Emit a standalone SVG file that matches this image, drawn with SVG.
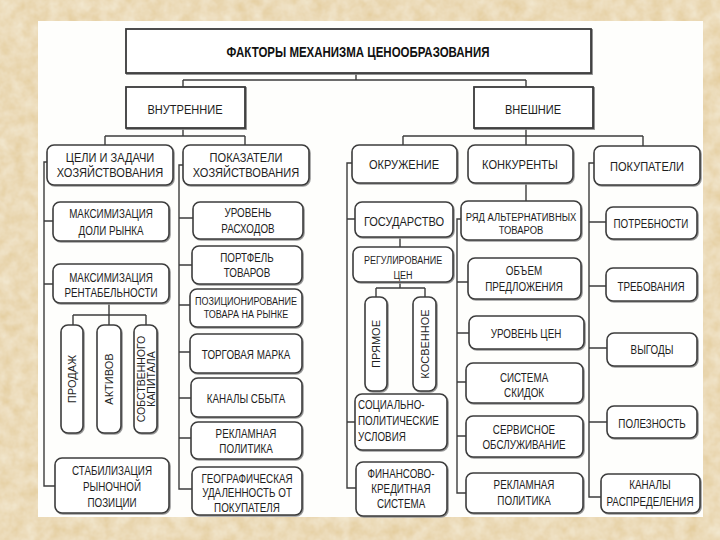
<svg xmlns="http://www.w3.org/2000/svg" width="720" height="540" viewBox="0 0 720 540">
<defs>
<filter id="paper" x="0" y="0" width="100%" height="100%">
<feTurbulence type="fractalNoise" baseFrequency="0.08" numOctaves="3" seed="4" result="n"/>
<feColorMatrix in="n" type="matrix" values="0 0 0 0 0.89  0 0 0 0 0.80  0 0 0 0 0.62  0 0 0 -1.2 1.1" result="c"/>
<feComposite in="c" in2="SourceGraphic" operator="over"/>
</filter>
<style>
.box{fill:#fff;stroke:#3c3c3c;stroke-width:1.6;filter:drop-shadow(1.2px 1.2px 0 #9a9a9a)}
.sq{fill:#fff;stroke:#3a3a3a;stroke-width:1.8;filter:drop-shadow(1.2px 1.5px 0 #8a8a8a)}
.ln{fill:none;stroke:#3c3c3c;stroke-width:1.4}
text{font-family:"Liberation Sans",Arial,sans-serif;fill:#1e1e1e;text-anchor:middle}
.n{transform-box:fill-box;transform-origin:center;transform:scale(0.82,1)}
.l{text-anchor:start;transform-origin:left center}
.t{font-size:14px;font-weight:bold;fill:#111}
.h{font-size:13.5px}
.m{font-size:13.5px}
.s{font-size:12px}
.xs{font-size:11px}
.a{font-size:11.5px}
.r{font-size:11px}
.r2{font-size:10.5px}
</style>
</defs>
<rect x="0" y="0" width="720" height="540" fill="#E4CD9E" filter="url(#paper)"/>
<rect x="38" y="21" width="665" height="496" fill="#FEFEFC"/>

<g id="connectors">
<path class="ln" d="M356,73V80M183,80H526M183,80V87M526,80V87"/>
<path class="ln" d="M183,128V136M105,136H245M105,136V145M245,136V145"/>
<path class="ln" d="M526,128V145M403,136H643M403,136V145M643,136V146"/>
<path class="ln" d="M47,162H44V486H55M44,221H53M44,284H53"/>
<path class="ln" d="M109,303V315M73,315H146M73,315V325M109,315V325M146,315V325"/>
<path class="ln" d="M183,165H179V489H192M179,218H193M179,265H192M179,305H190M179,352H190M179,398H191M179,438H191"/>
<path class="ln" d="M352,163H347V488H356M347,219H355M347,422H355"/>
<path class="ln" d="M400,237V247M400,282V288M376,288H425M376,288V297M425,288V297"/>
<path class="ln" d="M526,183V201M461,219H457V493H466M457,282H468M457,333H469M457,382H466M457,436H466"/>
<path class="ln" d="M594,163H589V497H601M589,222H606M589,286H606M589,348H607M589,422H607"/>
</g>

<g id="title"><rect class="sq" x="126" y="29" width="465" height="44"/><text class="t n" x="358" y="57">ФАКТОРЫ МЕХАНИЗМА ЦЕНООБРАЗОВАНИЯ</text></g>
<g id="internal"><rect class="sq" x="126" y="87" width="119" height="41"/><text class="h n" x="185" y="114">ВНУТРЕННИЕ</text></g>
<g id="external"><rect class="sq" x="474" y="87" width="119" height="41"/><text class="h n" x="533" y="114">ВНЕШНИЕ</text></g>

<g id="goals"><rect class="box" x="47" y="145" width="126" height="40" rx="7"/><text class="m n" x="110" y="162">ЦЕЛИ И ЗАДАЧИ</text><text class="m n" x="110" y="177">ХОЗЯЙСТВОВАНИЯ</text></g>
<g id="indicators"><rect class="box" x="183" y="145" width="126" height="40" rx="7"/><text class="m n" x="246" y="162">ПОКАЗАТЕЛИ</text><text class="m n" x="246" y="177">ХОЗЯЙСТВОВАНИЯ</text></g>
<g id="environment"><rect class="box" x="352" y="145" width="105" height="38" rx="7"/><text class="h n" x="404" y="169">ОКРУЖЕНИЕ</text></g>
<g id="competitors"><rect class="box" x="468" y="145" width="105" height="38" rx="7"/><text class="h n" x="520" y="169">КОНКУРЕНТЫ</text></g>
<g id="buyers"><rect class="box" x="594" y="146" width="106" height="39" rx="7"/><text class="h n" x="647" y="171">ПОКУПАТЕЛИ</text></g>

<g id="share"><rect class="box" x="53" y="202" width="116" height="39" rx="7"/><text class="s n" x="111" y="218">МАКСИМИЗАЦИЯ</text><text class="s n" x="111" y="235">ДОЛИ РЫНКА</text></g>
<g id="profit"><rect class="box" x="53" y="264" width="116" height="39" rx="7"/><text class="s n" x="111" y="282">МАКСИМИЗАЦИЯ</text><text class="s n" x="111" y="297">РЕНТАБЕЛЬНОСТИ</text></g>
<g id="sales"><rect class="box" x="61" y="325" width="22" height="108" rx="7"/><text class="r" transform="translate(72,379) rotate(-90)" y="4">ПРОДАЖ</text></g>
<g id="assets"><rect class="box" x="97" y="325" width="24" height="108" rx="7"/><text class="r" transform="translate(109,379) rotate(-90)" y="4">АКТИВОВ</text></g>
<g id="equity"><rect class="box" x="134" y="325" width="23" height="108" rx="7"/><text class="r2" transform="translate(145.5,379) rotate(-90)" y="-1">СОБСТВЕННОГО</text><text class="r2" transform="translate(145.5,379) rotate(-90)" y="9">КАПИТАЛА</text></g>
<g id="stabilize"><rect class="box" x="55" y="458" width="114" height="55" rx="7"/><text class="s n" x="112" y="475">СТАБИЛИЗАЦИЯ</text><text class="s n" x="112" y="491">РЫНОЧНОЙ</text><text class="s n" x="112" y="507">ПОЗИЦИИ</text></g>

<g id="costs"><rect class="box" x="193" y="202" width="110" height="37" rx="7"/><text class="s n" x="248" y="217">УРОВЕНЬ</text><text class="s n" x="248" y="233">РАСХОДОВ</text></g>
<g id="portfolio"><rect class="box" x="192" y="246" width="110" height="38" rx="7"/><text class="s n" x="247" y="262">ПОРТФЕЛЬ</text><text class="s n" x="247" y="277">ТОВАРОВ</text></g>
<g id="positioning"><rect class="box" x="190" y="289" width="112" height="38" rx="7"/><text class="xs n" x="246" y="305">ПОЗИЦИОНИРОВАНИЕ</text><text class="xs n" x="246" y="318">ТОВАРА НА РЫНКЕ</text></g>
<g id="brand"><rect class="box" x="190" y="334" width="112" height="39" rx="7"/><text class="s n" x="246" y="359">ТОРГОВАЯ МАРКА</text></g>
<g id="channels"><rect class="box" x="191" y="378" width="111" height="39" rx="7"/><text class="s n" x="246" y="403">КАНАЛЫ СБЫТА</text></g>
<g id="advert1"><rect class="box" x="191" y="422" width="111" height="37" rx="7"/><text class="s n" x="246" y="438">РЕКЛАМНАЯ</text><text class="s n" x="246" y="453">ПОЛИТИКА</text></g>
<g id="geo"><rect class="box" x="192" y="467" width="110" height="48" rx="7"/><text class="s n" x="247" y="483">ГЕОГРАФИЧЕСКАЯ</text><text class="s n" x="247" y="497">УДАЛЕННОСТЬ ОТ</text><text class="s n" x="247" y="512">ПОКУПАТЕЛЯ</text></g>

<g id="state"><rect class="box" x="355" y="202" width="98" height="35" rx="7"/><text class="h n" x="404" y="226">ГОСУДАРСТВО</text></g>
<g id="regulation"><rect class="box" x="353" y="247" width="100" height="35" rx="7"/><text class="xs n" x="403" y="264">РЕГУЛИРОВАНИЕ</text><text class="xs n" x="403" y="279">ЦЕН</text></g>
<g id="direct"><rect class="box" x="365" y="297" width="22" height="94" rx="7"/><text class="r" transform="translate(376,344) rotate(-90)" y="4">ПРЯМОЕ</text></g>
<g id="indirect"><rect class="box" x="413" y="297" width="23" height="94" rx="7"/><text class="r" transform="translate(424.5,344) rotate(-90)" y="4">КОСВЕННОЕ</text></g>
<g id="social"><rect class="box" x="355" y="394" width="92" height="56" rx="7"/><text class="s n l" x="358" y="409">СОЦИАЛЬНО-</text><text class="s n l" x="358" y="425">ПОЛИТИЧЕСКИЕ</text><text class="s n l" x="358" y="441">УСЛОВИЯ</text></g>
<g id="finance"><rect class="box" x="356" y="462" width="91" height="54" rx="7"/><text class="s n" x="401" y="478">ФИНАНСОВО-</text><text class="s n" x="401" y="493">КРЕДИТНАЯ</text><text class="s n" x="401" y="508">СИСТЕМА</text></g>

<g id="alternatives"><rect class="box" x="461" y="201" width="120" height="39" rx="7"/><text class="a n" x="521" y="221">РЯД АЛЬТЕРНАТИВНЫХ</text><text class="a n" x="521" y="234">ТОВАРОВ</text></g>
<g id="supply"><rect class="box" x="468" y="258" width="113" height="41" rx="7"/><text class="s n" x="524" y="275">ОБЪЕМ</text><text class="s n" x="524" y="291">ПРЕДЛОЖЕНИЯ</text></g>
<g id="prices"><rect class="box" x="469" y="316" width="115" height="33" rx="7"/><text class="s n" x="526" y="338">УРОВЕНЬ ЦЕН</text></g>
<g id="discounts"><rect class="box" x="466" y="363" width="117" height="40" rx="7"/><text class="s n" x="524" y="382">СИСТЕМА</text><text class="s n" x="524" y="397">СКИДОК</text></g>
<g id="service"><rect class="box" x="466" y="416" width="117" height="41" rx="7"/><text class="s n" x="524" y="434">СЕРВИСНОЕ</text><text class="s n" x="524" y="449">ОБСЛУЖИВАНИЕ</text></g>
<g id="advert2"><rect class="box" x="466" y="473" width="117" height="40" rx="7"/><text class="s n" x="524" y="489">РЕКЛАМНАЯ</text><text class="s n" x="524" y="505">ПОЛИТИКА</text></g>

<g id="needs"><rect class="box" x="606" y="207" width="91" height="32" rx="7"/><text class="s n" x="651" y="228">ПОТРЕБНОСТИ</text></g>
<g id="requirements"><rect class="box" x="606" y="268" width="91" height="33" rx="7"/><text class="s n" x="651" y="291">ТРЕБОВАНИЯ</text></g>
<g id="benefits"><rect class="box" x="607" y="333" width="90" height="33" rx="7"/><text class="s n" x="652" y="354">ВЫГОДЫ</text></g>
<g id="utility"><rect class="box" x="607" y="406" width="90" height="32" rx="7"/><text class="s n" x="652" y="428">ПОЛЕЗНОСТЬ</text></g>
<g id="distribution"><rect class="box" x="601" y="474" width="99" height="39" rx="7"/><text class="s n" x="650" y="489">КАНАЛЫ</text><text class="s n" x="650" y="506">РАСПРЕДЕЛЕНИЯ</text></g>
</svg>
